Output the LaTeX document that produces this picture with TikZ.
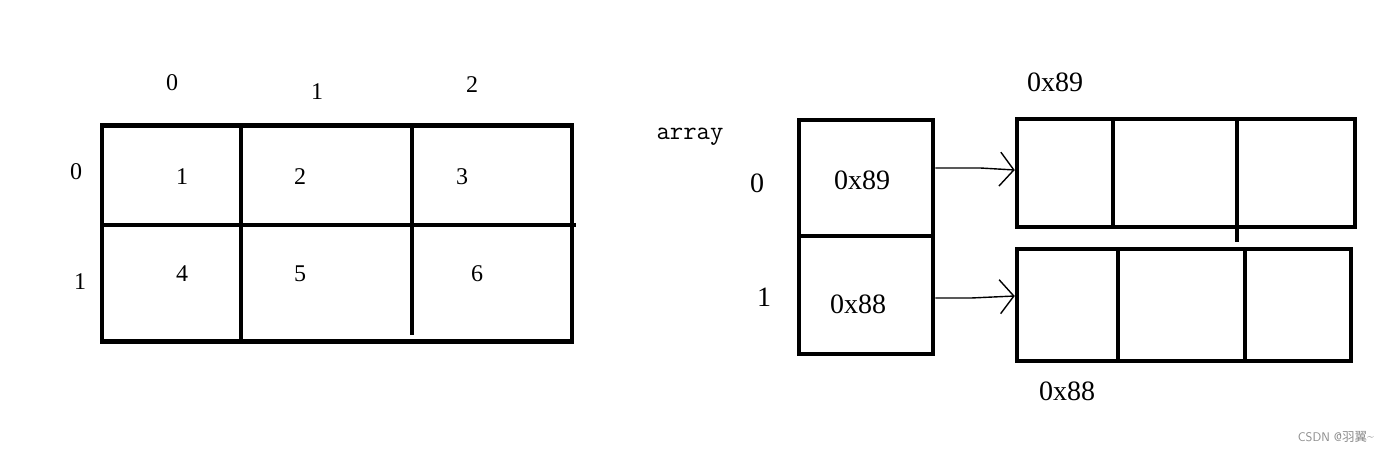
\documentclass[tikz,border=0pt]{standalone}
\usepackage{fontspec}
\setmainfont{Liberation Serif}
\newfontfamily\cjk{Noto Sans CJK SC}
\usetikzlibrary{arrows.meta}
\begin{document}
\begin{tikzpicture}[x=1pt,y=-1pt,
  frame/.style={draw, line width=4.5pt, inner sep=0pt},
  grid/.style={line width=4.5pt},
  lbl/.style={font=\fontsize{24}{24}\selectfont, inner sep=0pt},
  big/.style={font=\fontsize{28}{28}\selectfont, inner sep=0pt},
  ptr/.style={line width=1.4pt, -{Straight Barb[length=14pt,width=34pt,line width=1.4pt]}}]
\useasboundingbox[fill=white] (0,0) rectangle (1400,454);

% ---------- left 2x3 table ----------
\node[frame, minimum width=470pt, minimum height=216pt] (tbl) at (337,233.5) {};
\draw[grid] (104,225) -- (576,225);
\draw[grid] (241,126) -- (241,340);
\draw[grid] (412,126) -- (412,335);

\node[lbl] (c0) at (172,83) {0};
\node[lbl] (c1) at (317,92) {1};
\node[lbl] (c2) at (472,85) {2};
\node[lbl] (r0) at (76,172) {0};
\node[lbl] (r1) at (80,282) {1};
\node[lbl] (v1) at (182,177) {1};
\node[lbl] (v2) at (300,177) {2};
\node[lbl] (v3) at (462,177) {3};
\node[lbl] (v4) at (182,274) {4};
\node[lbl] (v5) at (300,274) {5};
\node[lbl] (v6) at (477,274) {6};

% ---------- right: pointer array ----------
\node[font=\fontsize{26}{26}\selectfont\ttfamily, inner sep=0pt] (arr) at (690,137) {array};
\node[frame, minimum width=134pt, minimum height=116pt] (p0) at (866,178) {};
\node[frame, minimum width=134pt, minimum height=118pt] (p1) at (866,295) {};
\node[big] (t0) at (862,180) {0x89};
\node[big] (t1) at (858,304) {0x88};
\node[big] (i0) at (757,183) {0};
\node[big] (i1) at (764,297) {1};

% ---------- right: row arrays ----------
\node[frame, minimum width=338pt, minimum height=108pt] (ra) at (1186,173) {};
\draw[grid] (1113,119) -- (1113,227);
\draw[grid] (1237,119) -- (1237,242);
\node[frame, minimum width=334pt, minimum height=112pt] (rb) at (1184,305) {};
\draw[grid] (1118,249) -- (1118,361);
\draw[grid] (1245,249) -- (1245,361);
\node[big] (ha) at (1055,82) {0x89};
\node[big] (hb) at (1067,391) {0x88};

% ---------- pointers ----------
\draw[ptr] ([yshift=10pt]p0.east) -- ++(45,0) -- ([yshift=3pt]ra.west);
\draw[ptr] ([yshift=-3pt]p1.east) -- ++(36,0) -- ([yshift=9pt]rb.west);

% ---------- watermark ----------
\node[text=black!45, font=\fontsize{12.5}{12.5}\sffamily, inner sep=0pt] (wm) at (1336,437) {CSDN @{\cjk 羽翼}\raisebox{1pt}{\textasciitilde}};
\end{tikzpicture}
\end{document}
